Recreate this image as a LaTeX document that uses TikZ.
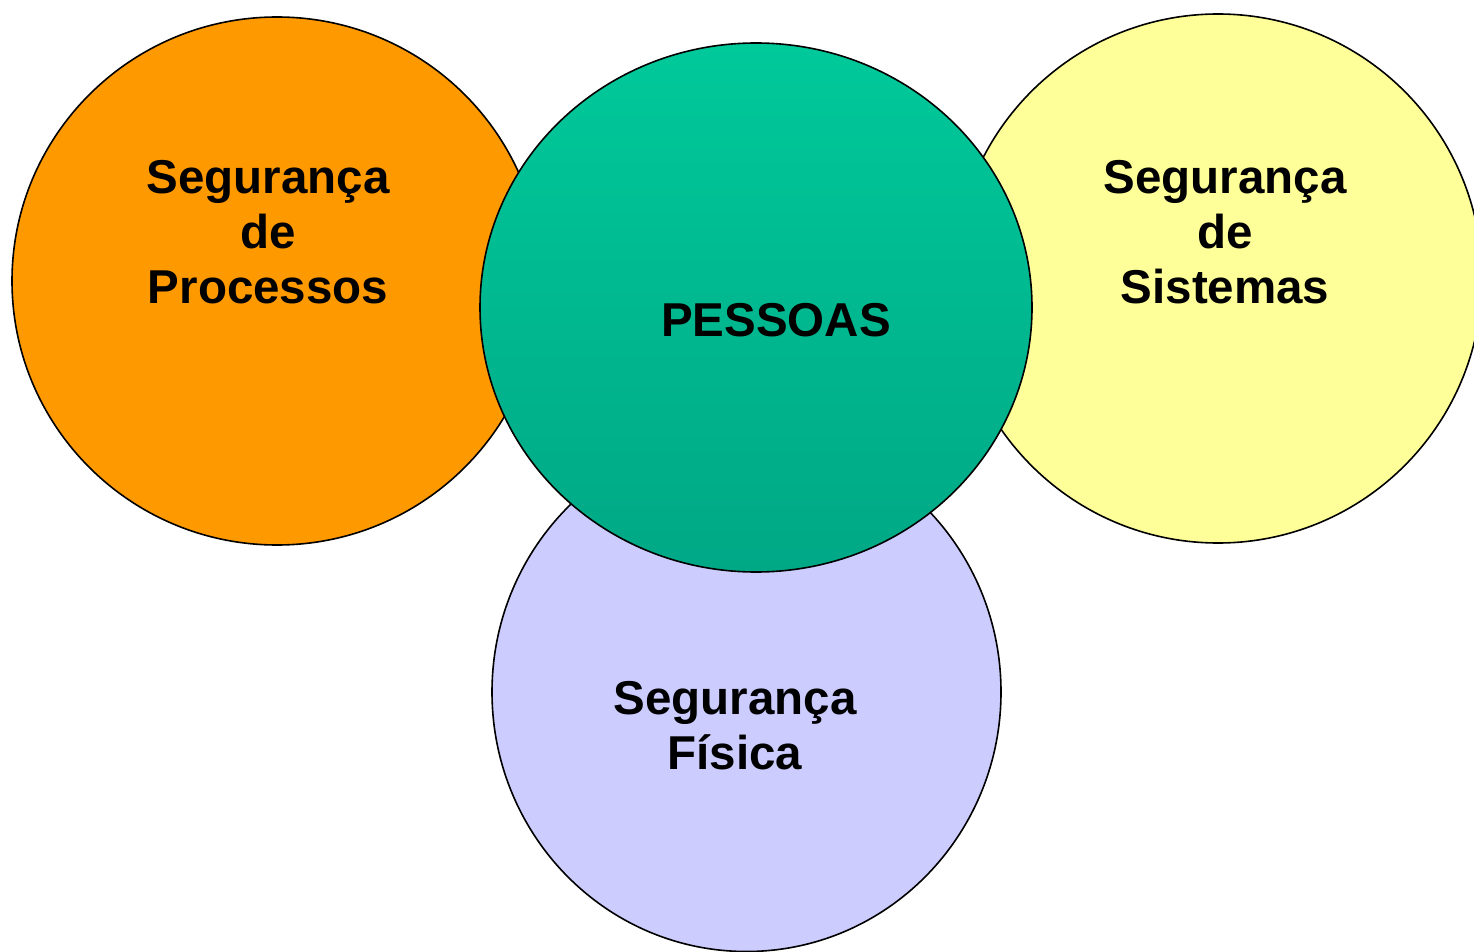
\documentclass[tikz,border=0pt]{standalone}
\usepackage{fontspec}
\setmainfont{Liberation Sans}
\definecolor{laranja}{RGB}{255,153,0}
\definecolor{amarelo}{RGB}{255,255,153}
\definecolor{lilas}{RGB}{204,204,255}
\definecolor{verdetopo}{RGB}{0,201,154}
\definecolor{verdebase}{RGB}{0,168,134}
\tikzset{
  bola/.style={draw=black,line width=1.6pt},
  rotulo/.style={align=center,inner sep=0pt,font=\fontsize{47.5}{55}\selectfont\bfseries}
}
\begin{document}
\begin{tikzpicture}[x=1pt,y=-1pt]
\useasboundingbox (0,0) rectangle (1474,952);
\begin{scope}
\clip (0,0) rectangle (1474,952);
\draw[bola,fill=laranja] (277,281) ellipse[x radius=265,y radius=264];
\draw[bola,fill=amarelo] (1218,278.5) ellipse[x radius=264,y radius=264.5];
\draw[bola,fill=lilas] (746.5,692) ellipse[x radius=254.5,y radius=259.5];
\draw[bola,top color=verdetopo,bottom color=verdebase] (756,307.5) ellipse[x radius=276,y radius=264.5];
\end{scope}
\node[rotulo] (processos) at (268,232.5) {Segurança\\de\\Processos};
\node[rotulo] (sistemas) at (1225,232.5) {Segurança\\de\\Sistemas};
\node[rotulo,anchor=base] (pessoas) at (776,336) {PESSOAS};
\node[rotulo] (fisica) at (735,726) {Segurança\\Física};
\end{tikzpicture}
\end{document}
